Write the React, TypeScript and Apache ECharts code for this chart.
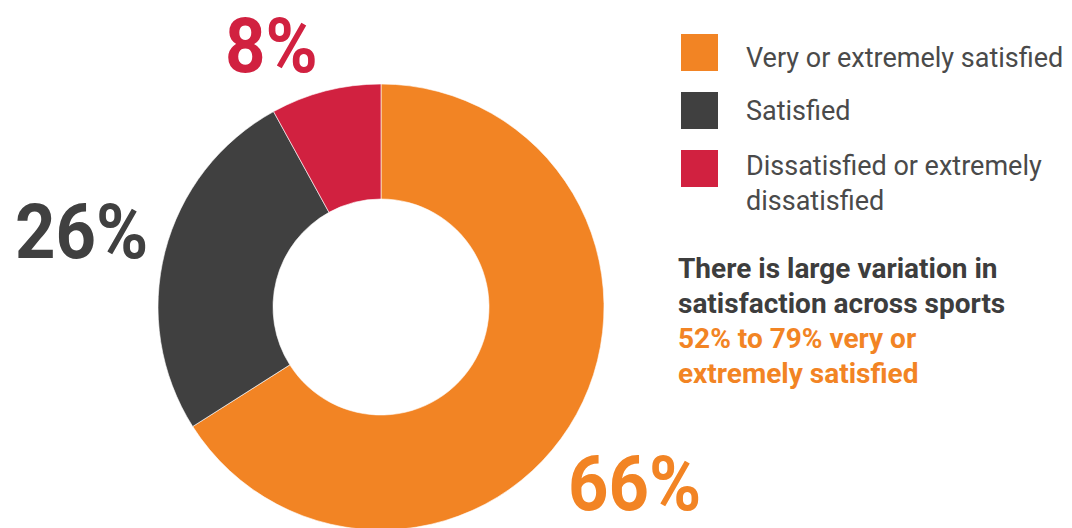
import React, { useEffect, useRef } from "react";
import * as echarts from "echarts";

const categories = [
  "Very or extremely satisfied",
  "Satisfied",
  "Dissatisfied or extremely dissatisfied",
];
const values = [66, 26, 8];
const colors = ["#F28424", "#404040", "#D12140"];
const legendLines = [
  ["Very or extremely satisfied"],
  ["Satisfied"],
  ["Dissatisfied or extremely", "dissatisfied"],
];
const noteLines = [
  "There is large variation in",
  "satisfaction across sports",
];
const highlightLines = ["52% to 79% very or", "extremely satisfied"];

// layout-only anchors
const bigLabelPos = [
  { x: 568, y: 484 },
  { x: 15, y: 232 },
  { x: 225, y: 46 },
];
const legendBoxTop = [34, 92, 150];
const legendTextY = [58, 111, 166];

export default function App() {
  const ref = useRef<HTMLDivElement>(null);
  useEffect(() => {
    document.body.style.margin = "0";
    const chart = echarts.init(ref.current!, null, { renderer: "svg" });
    const graphics: any[] = [];
    values.forEach((v, i) => {
      graphics.push({
        type: "text",
        x: bigLabelPos[i].x,
        y: bigLabelPos[i].y,
        scaleX: 0.93,
        style: {
          text: v + "%",
          fill: colors[i],
          font: "bold 76px Roboto",
          verticalAlign: "middle",
          align: "left",
        },
      });
    });
    categories.forEach((c, i) => {
      graphics.push({
        type: "rect",
        shape: { x: 681, y: legendBoxTop[i], width: 37, height: 37 },
        style: { fill: colors[i] },
      });
      legendLines[i].forEach((t, j) => {
        graphics.push({
          type: "text",
          x: 746,
          y: legendTextY[i] + j * 35,
          style: {
            text: t,
            fill: "#4a4a4a",
            font: "27px Roboto",
            verticalAlign: "middle",
          },
        });
      });
    });
    noteLines.forEach((t, i) => {
      graphics.push({
        type: "text",
        x: 678,
        y: 268 + i * 35,
        style: {
          text: t,
          fill: "#3d3d3d",
          font: "bold 28px Roboto",
          verticalAlign: "middle",
        },
      });
    });
    highlightLines.forEach((t, i) => {
      graphics.push({
        type: "text",
        x: 678,
        y: 338 + i * 35,
        style: {
          text: t,
          fill: colors[0],
          font: "bold 28px Roboto",
          verticalAlign: "middle",
        },
      });
    });
    chart.setOption({
      animation: false,
      series: [
        {
          type: "pie",
          center: [381, 307],
          radius: [108, 223],
          startAngle: 90,
          clockwise: true,
          label: { show: false },
          labelLine: { show: false },
          emphasis: { disabled: true },
          itemStyle: { borderColor: "#ffffff", borderWidth: 0.6 },
          data: categories.map((c, i) => ({
            name: c,
            value: values[i],
            itemStyle: { color: colors[i] },
          })),
        },
      ],
      graphic: graphics,
    });
    return () => chart.dispose();
  }, []);
  return <div ref={ref} style={{ width: 1072, height: 528 }} />;
}
